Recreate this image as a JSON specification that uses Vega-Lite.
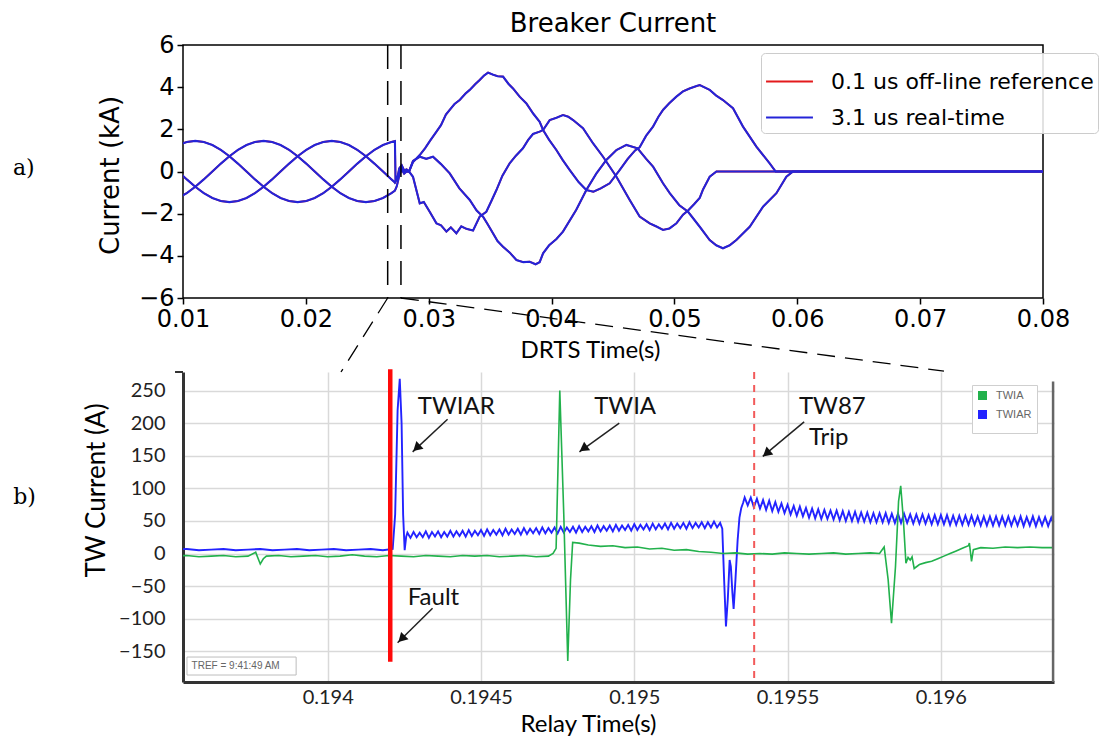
{
"$schema": "https://vega.github.io/schema/vega-lite/v6.json",
"background": "white",
"padding": {"left": 12, "top": 10, "right": 0, "bottom": 0},
"bounds": "flush",
"spacing": 74,
"resolve": {"scale": {"color": "independent"}, "legend": {"color": "independent"}},
"config": {"axis": {"labelOverlap": false}},
"datasets": {
"brk": [
{"t":0.00961,"v":1.256,"p":"A"},{"t":0.01031,"v":1.4,"p":"A"},{"t":0.011,"v":1.45,"p":"A"},{"t":0.01169,"v":1.4,"p":"A"},{"t":0.01239,"v":1.256,"p":"A"},{"t":0.01308,"v":1.025,"p":"A"},{"t":0.01378,"v":0.725,"p":"A"},{"t":0.01447,"v":0.375,"p":"A"},{"t":0.01517,"v":0,"p":"A"},{"t":0.01586,"v":-0.375,"p":"A"},{"t":0.01656,"v":-0.725,"p":"A"},{"t":0.01725,"v":-1.025,"p":"A"},{"t":0.01794,"v":-1.256,"p":"A"},{"t":0.01864,"v":-1.4,"p":"A"},{"t":0.01933,"v":-1.45,"p":"A"},{"t":0.02003,"v":-1.4,"p":"A"},{"t":0.02072,"v":-1.256,"p":"A"},{"t":0.02142,"v":-1.025,"p":"A"},{"t":0.02211,"v":-0.725,"p":"A"},{"t":0.0228,"v":-0.375,"p":"A"},{"t":0.0235,"v":0,"p":"A"},{"t":0.02419,"v":0.375,"p":"A"},{"t":0.02489,"v":0.725,"p":"A"},{"t":0.02558,"v":1.025,"p":"A"},{"t":0.02628,"v":1.256,"p":"A"},{"t":0.02697,"v":1.4,"p":"A"},{"t":0.02725,"v":1.44,"p":"A"},{"t":0.0273,"v":-0.45,"p":"A"},{"t":0.02745,"v":-0.3,"p":"A"},{"t":0.0276,"v":0.15,"p":"A"},{"t":0.0278,"v":0.3,"p":"A"},{"t":0.028,"v":0.05,"p":"A"},{"t":0.0282,"v":0.1,"p":"A"},{"t":0.0284,"v":0,"p":"A"},
{"t":0.02872,"v":0.45,"p":"A"},{"t":0.02927,"v":0.78,"p":"A"},{"t":0.0297,"v":1.1,"p":"A"},{"t":0.0301,"v":1.45,"p":"A"},{"t":0.03063,"v":1.89,"p":"A"},{"t":0.031,"v":2.2,"p":"A"},{"t":0.0314,"v":2.7,"p":"A"},{"t":0.03171,"v":2.92,"p":"A"},{"t":0.0321,"v":3.2,"p":"A"},{"t":0.03252,"v":3.39,"p":"A"},{"t":0.033,"v":3.7,"p":"A"},{"t":0.03334,"v":3.87,"p":"A"},{"t":0.0338,"v":4.15,"p":"A"},{"t":0.03415,"v":4.34,"p":"A"},{"t":0.0345,"v":4.55,"p":"A"},{"t":0.03483,"v":4.69,"p":"A"},{"t":0.0352,"v":4.6,"p":"A"},{"t":0.0356,"v":4.52,"p":"A"},{"t":0.03605,"v":4.5,"p":"A"},{"t":0.0365,"v":4.15,"p":"A"},{"t":0.03686,"v":3.94,"p":"A"},{"t":0.0374,"v":3.55,"p":"A"},{"t":0.03795,"v":3.23,"p":"A"},{"t":0.0385,"v":2.75,"p":"A"},{"t":0.03903,"v":2.36,"p":"A"},{"t":0.03931,"v":1.97,"p":"A"},{"t":0.0398,"v":1.5,"p":"A"},{"t":0.04039,"v":1.02,"p":"A"},{"t":0.0409,"v":0.55,"p":"A"},{"t":0.04148,"v":0.07,"p":"A"},{"t":0.0422,"v":-0.5,"p":"A"},{"t":0.04283,"v":-0.88,"p":"A"},{"t":0.0434,"v":-0.96,"p":"A"},{"t":0.044,"v":-0.8,"p":"A"},{"t":0.04473,"v":-0.56,"p":"A"},{"t":0.04554,"v":0.07,"p":"A"},{"t":0.0462,"v":0.6,"p":"A"},{"t":0.0468,"v":1.0,"p":"A"},{"t":0.04717,"v":1.15,"p":"A"},{"t":0.0477,"v":1.7,"p":"A"},{"t":0.04826,"v":2.13,"p":"A"},{"t":0.0487,"v":2.6,"p":"A"},{"t":0.04907,"v":2.92,"p":"A"},{"t":0.0496,"v":3.25,"p":"A"},{"t":0.05016,"v":3.55,"p":"A"},{"t":0.0507,"v":3.8,"p":"A"},{"t":0.05124,"v":3.94,"p":"A"},{"t":0.0518,"v":4.05,"p":"A"},{"t":0.05206,"v":4.1,"p":"A"},{"t":0.05287,"v":3.87,"p":"A"},{"t":0.0534,"v":3.6,"p":"A"},{"t":0.05395,"v":3.39,"p":"A"},{"t":0.05477,"v":3.0,"p":"A"},{"t":0.05558,"v":2.13,"p":"A"},{"t":0.05667,"v":1.18,"p":"A"},{"t":0.05775,"v":0.39,"p":"A"},{"t":0.05824,"v":0,"p":"A"},{"t":0.081,"v":0,"p":"A"},
{"t":0.00961,"v":-1.256,"p":"B"},{"t":0.01031,"v":-1.025,"p":"B"},{"t":0.011,"v":-0.725,"p":"B"},{"t":0.01169,"v":-0.375,"p":"B"},{"t":0.01239,"v":0,"p":"B"},{"t":0.01308,"v":0.375,"p":"B"},{"t":0.01378,"v":0.725,"p":"B"},{"t":0.01447,"v":1.025,"p":"B"},{"t":0.01517,"v":1.256,"p":"B"},{"t":0.01586,"v":1.4,"p":"B"},{"t":0.01656,"v":1.45,"p":"B"},{"t":0.01725,"v":1.4,"p":"B"},{"t":0.01794,"v":1.256,"p":"B"},{"t":0.01864,"v":1.025,"p":"B"},{"t":0.01933,"v":0.725,"p":"B"},{"t":0.02003,"v":0.375,"p":"B"},{"t":0.02072,"v":0,"p":"B"},{"t":0.02142,"v":-0.375,"p":"B"},{"t":0.02211,"v":-0.725,"p":"B"},{"t":0.0228,"v":-1.025,"p":"B"},{"t":0.0235,"v":-1.256,"p":"B"},{"t":0.02419,"v":-1.4,"p":"B"},{"t":0.02489,"v":-1.45,"p":"B"},{"t":0.02558,"v":-1.4,"p":"B"},{"t":0.02628,"v":-1.256,"p":"B"},{"t":0.02697,"v":-1.025,"p":"B"},{"t":0.02725,"v":-0.91,"p":"B"},{"t":0.0274,"v":-0.7,"p":"B"},{"t":0.0276,"v":-0.2,"p":"B"},{"t":0.0278,"v":0.1,"p":"B"},{"t":0.028,"v":-0.1,"p":"B"},{"t":0.0282,"v":0,"p":"B"},{"t":0.0284,"v":0,"p":"B"},
{"t":0.02872,"v":-0.25,"p":"B"},{"t":0.02927,"v":-1.51,"p":"B"},{"t":0.0296,"v":-1.45,"p":"B"},{"t":0.03008,"v":-1.91,"p":"B"},{"t":0.03063,"v":-2.46,"p":"B"},{"t":0.031,"v":-2.55,"p":"B"},{"t":0.03144,"v":-2.85,"p":"B"},{"t":0.0318,"v":-2.65,"p":"B"},{"t":0.03225,"v":-2.93,"p":"B"},{"t":0.03265,"v":-2.6,"p":"B"},{"t":0.03307,"v":-2.72,"p":"B"},{"t":0.03361,"v":-2.8,"p":"B"},{"t":0.03415,"v":-2.14,"p":"B"},{"t":0.03469,"v":-1.91,"p":"B"},{"t":0.0351,"v":-1.4,"p":"B"},{"t":0.03551,"v":-0.88,"p":"B"},{"t":0.036,"v":-0.2,"p":"B"},{"t":0.03659,"v":0.39,"p":"B"},{"t":0.0371,"v":0.75,"p":"B"},{"t":0.03767,"v":1.1,"p":"B"},{"t":0.0381,"v":1.5,"p":"B"},{"t":0.03849,"v":1.78,"p":"B"},{"t":0.03903,"v":1.89,"p":"B"},{"t":0.03931,"v":1.97,"p":"B"},{"t":0.03985,"v":2.44,"p":"B"},{"t":0.0404,"v":2.55,"p":"B"},{"t":0.04093,"v":2.68,"p":"B"},{"t":0.04135,"v":2.6,"p":"B"},{"t":0.04175,"v":2.44,"p":"B"},{"t":0.04256,"v":2.05,"p":"B"},{"t":0.04337,"v":1.34,"p":"B"},{"t":0.04419,"v":0.7,"p":"B"},{"t":0.04528,"v":-0.25,"p":"B"},{"t":0.04636,"v":-1.35,"p":"B"},{"t":0.04717,"v":-2.14,"p":"B"},{"t":0.04799,"v":-2.46,"p":"B"},{"t":0.0485,"v":-2.6,"p":"B"},{"t":0.04907,"v":-2.77,"p":"B"},{"t":0.0496,"v":-2.7,"p":"B"},{"t":0.05016,"v":-2.46,"p":"B"},{"t":0.0507,"v":-2.05,"p":"B"},{"t":0.05111,"v":-1.85,"p":"B"},{"t":0.0516,"v":-1.55,"p":"B"},{"t":0.05206,"v":-1.25,"p":"B"},{"t":0.05233,"v":-0.85,"p":"B"},{"t":0.05287,"v":-0.25,"p":"B"},{"t":0.05342,"v":0,"p":"B"},{"t":0.081,"v":0,"p":"B"},
{"t":0.00961,"v":0,"p":"C"},{"t":0.01031,"v":-0.375,"p":"C"},{"t":0.011,"v":-0.725,"p":"C"},{"t":0.01169,"v":-1.025,"p":"C"},{"t":0.01239,"v":-1.256,"p":"C"},{"t":0.01308,"v":-1.4,"p":"C"},{"t":0.01378,"v":-1.45,"p":"C"},{"t":0.01447,"v":-1.4,"p":"C"},{"t":0.01517,"v":-1.256,"p":"C"},{"t":0.01586,"v":-1.025,"p":"C"},{"t":0.01656,"v":-0.725,"p":"C"},{"t":0.01725,"v":-0.375,"p":"C"},{"t":0.01794,"v":0,"p":"C"},{"t":0.01864,"v":0.375,"p":"C"},{"t":0.01933,"v":0.725,"p":"C"},{"t":0.02003,"v":1.025,"p":"C"},{"t":0.02072,"v":1.256,"p":"C"},{"t":0.02142,"v":1.4,"p":"C"},{"t":0.02211,"v":1.45,"p":"C"},{"t":0.0228,"v":1.4,"p":"C"},{"t":0.0235,"v":1.256,"p":"C"},{"t":0.02419,"v":1.025,"p":"C"},{"t":0.02489,"v":0.725,"p":"C"},{"t":0.02558,"v":0.375,"p":"C"},{"t":0.02628,"v":0,"p":"C"},{"t":0.02697,"v":-0.375,"p":"C"},{"t":0.02725,"v":-0.52,"p":"C"},{"t":0.0274,"v":-0.35,"p":"C"},{"t":0.0276,"v":-0.05,"p":"C"},{"t":0.0278,"v":0.25,"p":"C"},{"t":0.028,"v":0,"p":"C"},{"t":0.0284,"v":0,"p":"C"},
{"t":0.02872,"v":0.5,"p":"C"},{"t":0.02927,"v":0.7,"p":"C"},{"t":0.0298,"v":0.6,"p":"C"},{"t":0.03035,"v":0.7,"p":"C"},{"t":0.031,"v":0.35,"p":"C"},{"t":0.03171,"v":-0.09,"p":"C"},{"t":0.0325,"v":-0.8,"p":"C"},{"t":0.03334,"v":-1.35,"p":"C"},{"t":0.0339,"v":-1.85,"p":"C"},{"t":0.03442,"v":-2.14,"p":"C"},{"t":0.0348,"v":-2.5,"p":"C"},{"t":0.03523,"v":-2.93,"p":"C"},{"t":0.0356,"v":-3.3,"p":"C"},{"t":0.03605,"v":-3.57,"p":"C"},{"t":0.0366,"v":-3.85,"p":"C"},{"t":0.03714,"v":-4.2,"p":"C"},{"t":0.0377,"v":-4.3,"p":"C"},{"t":0.03822,"v":-4.28,"p":"C"},{"t":0.0387,"v":-4.4,"p":"C"},{"t":0.03903,"v":-4.3,"p":"C"},{"t":0.03931,"v":-3.88,"p":"C"},{"t":0.0398,"v":-3.5,"p":"C"},{"t":0.0404,"v":-3.2,"p":"C"},{"t":0.04093,"v":-2.85,"p":"C"},{"t":0.042,"v":-1.83,"p":"C"},{"t":0.04283,"v":-0.88,"p":"C"},{"t":0.04365,"v":-0.09,"p":"C"},{"t":0.04446,"v":0.55,"p":"C"},{"t":0.04528,"v":1.02,"p":"C"},{"t":0.04609,"v":1.26,"p":"C"},{"t":0.047,"v":1.1,"p":"C"},{"t":0.0477,"v":0.6,"p":"C"},{"t":0.04826,"v":0.23,"p":"C"},{"t":0.04907,"v":-0.56,"p":"C"},{"t":0.04962,"v":-1.03,"p":"C"},{"t":0.0504,"v":-1.6,"p":"C"},{"t":0.05111,"v":-1.91,"p":"C"},{"t":0.05206,"v":-2.62,"p":"C"},{"t":0.05287,"v":-3.25,"p":"C"},{"t":0.0534,"v":-3.5,"p":"C"},{"t":0.05395,"v":-3.64,"p":"C"},{"t":0.0545,"v":-3.5,"p":"C"},{"t":0.05504,"v":-3.25,"p":"C"},{"t":0.05613,"v":-2.62,"p":"C"},{"t":0.05721,"v":-1.67,"p":"C"},{"t":0.0583,"v":-1.03,"p":"C"},{"t":0.05911,"v":-0.25,"p":"C"},{"t":0.05965,"v":0,"p":"C"},{"t":0.081,"v":0,"p":"C"}
],
"twiar": [
{"t":0.1935,"v":6},{"t":0.19354,"v":7},{"t":0.19358,"v":5},{"t":0.19362,"v":6},{"t":0.19366,"v":7},{"t":0.1937,"v":5},{"t":0.19374,"v":6},{"t":0.19378,"v":7},{"t":0.19382,"v":5},{"t":0.19386,"v":6},{"t":0.1939,"v":7},{"t":0.19394,"v":5},{"t":0.19398,"v":6},{"t":0.19402,"v":7},{"t":0.19406,"v":5},{"t":0.1941,"v":6},{"t":0.19414,"v":7},{"t":0.19418,"v":5},{"t":0.194212,"v":7},{"t":0.19422,"v":60},{"t":0.194228,"v":220},{"t":0.194235,"v":268},{"t":0.194241,"v":200},{"t":0.194246,"v":60},{"t":0.194251,"v":5},{"t":0.194256,"v":26},
{"t":0.19426,"v":32},{"t":0.19427,"v":24},{"t":0.19428,"v":33},{"t":0.19429,"v":25},{"t":0.1943,"v":32},{"t":0.19431,"v":25},{"t":0.19432,"v":34},{"t":0.19433,"v":24},{"t":0.19434,"v":33},{"t":0.19435,"v":26},{"t":0.19436,"v":34},{"t":0.19437,"v":25},{"t":0.19438,"v":33},{"t":0.19439,"v":26},{"t":0.1944,"v":35},{"t":0.19441,"v":26},{"t":0.19442,"v":34},{"t":0.19443,"v":27},{"t":0.19444,"v":35},{"t":0.19445,"v":26},{"t":0.19446,"v":36},{"t":0.19447,"v":27},{"t":0.19448,"v":35},{"t":0.19449,"v":28},{"t":0.1945,"v":36},{"t":0.19451,"v":27},{"t":0.19452,"v":37},{"t":0.19453,"v":28},{"t":0.19454,"v":36},{"t":0.19455,"v":29},{"t":0.19456,"v":37},{"t":0.19457,"v":28},{"t":0.19458,"v":38},{"t":0.19459,"v":29},{"t":0.1946,"v":37},{"t":0.19461,"v":30},{"t":0.19462,"v":38},{"t":0.19463,"v":29},{"t":0.19464,"v":39},{"t":0.19465,"v":30},{"t":0.19466,"v":38},{"t":0.19467,"v":31},{"t":0.19468,"v":39},{"t":0.19469,"v":30},{"t":0.1947,"v":40},{"t":0.19471,"v":31},{"t":0.19472,"v":39},{"t":0.19473,"v":32},{"t":0.19474,"v":40},{"t":0.19475,"v":31},{"t":0.19476,"v":41},{"t":0.19477,"v":32},{"t":0.19478,"v":40},{"t":0.19479,"v":33},{"t":0.1948,"v":41},{"t":0.19481,"v":32},{"t":0.19482,"v":42},{"t":0.19483,"v":33},{"t":0.19484,"v":41},{"t":0.19485,"v":34},{"t":0.19486,"v":42},{"t":0.19487,"v":33},{"t":0.19488,"v":43},{"t":0.19489,"v":34},{"t":0.1949,"v":42},{"t":0.19491,"v":35},{"t":0.19492,"v":43},{"t":0.19493,"v":34},{"t":0.19494,"v":44},{"t":0.19495,"v":35},{"t":0.19496,"v":43},{"t":0.19497,"v":36},{"t":0.19498,"v":44},{"t":0.19499,"v":35},{"t":0.195,"v":45},{"t":0.19501,"v":36},{"t":0.19502,"v":44},{"t":0.19503,"v":37},{"t":0.19504,"v":45},{"t":0.19505,"v":36},{"t":0.19506,"v":46},{"t":0.19507,"v":37},{"t":0.19508,"v":45},{"t":0.19509,"v":38},{"t":0.1951,"v":46},{"t":0.19511,"v":37},{"t":0.19512,"v":47},{"t":0.19513,"v":38},{"t":0.19514,"v":46},{"t":0.19515,"v":39},{"t":0.19516,"v":47},{"t":0.19517,"v":38},{"t":0.19518,"v":48},{"t":0.19519,"v":39},{"t":0.1952,"v":47},{"t":0.19521,"v":40},{"t":0.19522,"v":48},{"t":0.19523,"v":39},{"t":0.19524,"v":48},{"t":0.19525,"v":40},{"t":0.19526,"v":49},{"t":0.19527,"v":40},{"t":0.19528,"v":47},
{"t":0.195287,"v":38},{"t":0.195293,"v":-40},{"t":0.195299,"v":-112},{"t":0.195305,"v":-70},{"t":0.195311,"v":-10},{"t":0.195315,"v":-20},{"t":0.19532,"v":-60},{"t":0.195324,"v":-85},{"t":0.19533,"v":-40},{"t":0.195337,"v":20},{"t":0.195343,"v":55},{"t":0.195349,"v":70},{"t":0.195355,"v":78},
{"t":0.19536,"v":86},{"t":0.19537,"v":74},{"t":0.19538,"v":86},{"t":0.19539,"v":71},{"t":0.1954,"v":84},{"t":0.19541,"v":69},{"t":0.19542,"v":82},{"t":0.19543,"v":67},{"t":0.19544,"v":81},{"t":0.19545,"v":65},{"t":0.19546,"v":79},{"t":0.19547,"v":64},{"t":0.19548,"v":77},{"t":0.19549,"v":62},{"t":0.1955,"v":75},{"t":0.19551,"v":60},{"t":0.19552,"v":73},{"t":0.19553,"v":58},{"t":0.19554,"v":72},{"t":0.19555,"v":57},{"t":0.19556,"v":70},{"t":0.19557,"v":55},{"t":0.19558,"v":69},{"t":0.19559,"v":54},{"t":0.1956,"v":68},{"t":0.19561,"v":53},{"t":0.19562,"v":67},{"t":0.19563,"v":53},{"t":0.19564,"v":66},{"t":0.19565,"v":52},{"t":0.19566,"v":66},{"t":0.19567,"v":51},{"t":0.19568,"v":65},{"t":0.19569,"v":50},{"t":0.1957,"v":64},{"t":0.19571,"v":50},{"t":0.19572,"v":64},{"t":0.19573,"v":49},{"t":0.19574,"v":63},{"t":0.19575,"v":49},{"t":0.19576,"v":63},{"t":0.19577,"v":48},{"t":0.19578,"v":62},{"t":0.19579,"v":48},{"t":0.1958,"v":62},{"t":0.19581,"v":48},{"t":0.19582,"v":62},{"t":0.19583,"v":47},{"t":0.19584,"v":61},{"t":0.19585,"v":47},{"t":0.19586,"v":61},{"t":0.19587,"v":47},{"t":0.19588,"v":61},{"t":0.19589,"v":47},{"t":0.1959,"v":60},{"t":0.19591,"v":46},{"t":0.19592,"v":60},{"t":0.19593,"v":46},{"t":0.19594,"v":60},{"t":0.19595,"v":46},{"t":0.19596,"v":59},{"t":0.19597,"v":45},{"t":0.19598,"v":59},{"t":0.19599,"v":45},{"t":0.196,"v":59},{"t":0.19601,"v":45},{"t":0.19602,"v":59},{"t":0.19603,"v":44},{"t":0.19604,"v":58},{"t":0.19605,"v":44},{"t":0.19606,"v":58},{"t":0.19607,"v":44},{"t":0.19608,"v":58},{"t":0.19609,"v":44},{"t":0.1961,"v":58},{"t":0.19611,"v":44},{"t":0.19612,"v":57},{"t":0.19613,"v":43},{"t":0.19614,"v":57},{"t":0.19615,"v":43},{"t":0.19616,"v":57},{"t":0.19617,"v":43},{"t":0.19618,"v":57},{"t":0.19619,"v":43},{"t":0.1962,"v":57},{"t":0.19621,"v":43},{"t":0.19622,"v":57},{"t":0.19623,"v":43},{"t":0.19624,"v":56},{"t":0.19625,"v":43},{"t":0.19626,"v":57},{"t":0.19627,"v":42},{"t":0.19628,"v":56},{"t":0.19629,"v":43},{"t":0.1963,"v":57},{"t":0.19631,"v":42},{"t":0.19632,"v":56},{"t":0.19633,"v":43},{"t":0.19634,"v":56},{"t":0.19635,"v":42},{"t":0.19636,"v":55},{"t":0.19637,"v":43},{"t":0.19638,"v":55}
],
"twia": [
{"t":0.1935,"v":-4},{"t":0.19354,"v":-3},{"t":0.19358,"v":-5},{"t":0.19362,"v":-4},{"t":0.19366,"v":-3},{"t":0.1937,"v":-5},{"t":0.19374,"v":-4},{"t":0.193765,"v":2},{"t":0.19378,"v":-16},{"t":0.19379,"v":-8},{"t":0.1938,"v":-4},{"t":0.19384,"v":-3},{"t":0.19388,"v":-5},{"t":0.19392,"v":-4},{"t":0.19396,"v":-3},{"t":0.194,"v":-5},{"t":0.19404,"v":-4},{"t":0.19408,"v":-2},{"t":0.19412,"v":-4},{"t":0.19416,"v":-5},{"t":0.1942,"v":-3},{"t":0.19424,"v":-4},{"t":0.19428,"v":-5},{"t":0.19432,"v":-3},{"t":0.19436,"v":-4},{"t":0.1944,"v":-5},{"t":0.19444,"v":-3},{"t":0.19448,"v":-4},{"t":0.19452,"v":-3},{"t":0.19456,"v":-5},{"t":0.1946,"v":-4},{"t":0.19464,"v":-3},{"t":0.19468,"v":-5},{"t":0.19472,"v":-4},{"t":0.194735,"v":0},{"t":0.194745,"v":8},{"t":0.194757,"v":250},{"t":0.19477,"v":60},{"t":0.194783,"v":-165},{"t":0.194792,"v":-40},{"t":0.194799,"v":17},{"t":0.19482,"v":16},{"t":0.19485,"v":13},{"t":0.19489,"v":11},{"t":0.19493,"v":12},{"t":0.19497,"v":9},{"t":0.19501,"v":10},{"t":0.19505,"v":7},{"t":0.19509,"v":8},{"t":0.19513,"v":5},{"t":0.19517,"v":6},{"t":0.19521,"v":3},{"t":0.19525,"v":2},{"t":0.19529,"v":0},{"t":0.19533,"v":1},{"t":0.19537,"v":-1},{"t":0.19541,"v":0},{"t":0.19545,"v":-1},{"t":0.19549,"v":1},{"t":0.19553,"v":0},{"t":0.19557,"v":-1},{"t":0.19561,"v":0},{"t":0.19565,"v":1},{"t":0.19569,"v":-1},{"t":0.19573,"v":0},{"t":0.19577,"v":1},{"t":0.1958,"v":0},{"t":0.195815,"v":10},{"t":0.195828,"v":-40},{"t":0.195839,"v":-107},{"t":0.195852,"v":-20},{"t":0.195862,"v":80},{"t":0.195869,"v":104},{"t":0.195878,"v":50},{"t":0.195886,"v":-15},{"t":0.195893,"v":-6},{"t":0.1959,"v":-10},{"t":0.195906,"v":-5},{"t":0.195913,"v":-23},{"t":0.19593,"v":-17},{"t":0.19595,"v":-14},{"t":0.19597,"v":-12},{"t":0.19599,"v":-8},{"t":0.19601,"v":-4},{"t":0.19603,"v":0},{"t":0.19605,"v":4},{"t":0.19607,"v":8},{"t":0.19609,"v":12},{"t":0.196093,"v":16},{"t":0.1961,"v":-12},{"t":0.196106,"v":6},{"t":0.19613,"v":9},{"t":0.19617,"v":8},{"t":0.19621,"v":10},{"t":0.19625,"v":9},{"t":0.19629,"v":10},{"t":0.19633,"v":9},{"t":0.19638,"v":9}
]
},
"vconcat": [
{
"width": 860, "height": 253,
"view": {"stroke": "#000", "strokeWidth": 1.5},
"layer": [
{"data": {"name": "brk"}, "mark": {"type": "line", "strokeWidth": 1.8, "clip": true},
 "encoding": {
  "x": {"field": "t", "type": "quantitative", "scale": {"domain": [0.01, 0.08], "nice": false, "zero": false},
   "axis": {"values": [0.01,0.02,0.03,0.04,0.05,0.06,0.07,0.08], "tickCount": 20, "format": ".2f", "labelFont": "DejaVu Sans", "labelFontSize": 24, "labelColor": "#000", "tickColor": "#000", "tickSize": 6, "tickWidth": 1.5, "domain": false, "grid": false, "labelPadding": 3, "labelFlush": false, "labelOverlap": false, "title": "DRTS Time(s)", "titleFont": "Lato", "titleFontSize": 24, "titleFontWeight": "normal", "titleColor": "#000", "titleX": 407, "titleY": 40, "titleBaseline": "top", "titleAlign": "center"}},
  "y": {"field": "v", "type": "quantitative", "scale": {"domain": [-6, 6], "nice": false, "zero": false},
   "axis": {"values": [-6,-4,-2,0,2,4,6], "tickCount": 20, "format": "d", "labelFont": "DejaVu Sans", "labelFontSize": 24, "labelColor": "#000", "tickColor": "#000", "tickSize": 6, "tickWidth": 1.5, "domain": false, "grid": false, "labelPadding": 3, "labelFlush": false, "labelOverlap": false, "title": "Current (kA)", "titleFont": "DejaVu Sans", "titleFontSize": 26, "titleFontWeight": "normal", "titleColor": "#000", "titleX": -60, "titleY": 130, "titleAngle": 270, "titleAlign": "center", "titleBaseline": "bottom"}},
  "detail": {"field": "p"},
  "color": {"datum": "0.1 us off-line reference", "type": "nominal",
   "scale": {"domain": ["0.1 us off-line reference", "3.1 us real-time"], "range": ["#e31a1c", "#2424d8"]},
   "legend": {"orient": "none", "legendX": 578, "legendY": 8, "title": null, "symbolType": "stroke", "symbolSize": 2200, "symbolStrokeWidth": 2, "labelFont": "DejaVu Sans", "labelFontSize": 22, "labelColor": "#000", "labelOffset": 17, "labelLimit": 400, "rowPadding": 0, "padding": 4, "fillColor": "rgba(255,255,255,0.85)", "strokeColor": "#cccccc", "cornerRadius": 4}}
 }},
{"data": {"name": "brk"}, "mark": {"type": "line", "strokeWidth": 2.1, "clip": true},
 "encoding": {"x": {"field": "t", "type": "quantitative"}, "y": {"field": "v", "type": "quantitative"}, "detail": {"field": "p"}, "color": {"datum": "3.1 us real-time", "type": "nominal"}}},
{"data": {"values": [{"t": 0.02666, "v": 6, "v2": -6}, {"t": 0.02774, "v": 6, "v2": -6}]}, "mark": {"type": "rule", "color": "#000", "strokeWidth": 1.5, "strokeDash": [24, 12]},
 "encoding": {"x": {"field": "t", "type": "quantitative"}, "y": {"field": "v", "type": "quantitative"}, "y2": {"field": "v2"}}},
{"data": {"values": [{"t": 0.02666, "v": -6, "t2": 0.02286, "v2": -9.51}, {"t": 0.02774, "v": -6, "t2": 0.07194, "v2": -9.47}]}, "mark": {"type": "rule", "color": "#000", "strokeWidth": 1.3, "strokeDash": [18, 10], "clip": false},
 "encoding": {"x": {"field": "t", "type": "quantitative"}, "y": {"field": "v", "type": "quantitative"}, "x2": {"field": "t2"}, "y2": {"field": "v2"}}},
{"data": {"values": [{"t": -0.003837, "v": 0.166, "l": "a)"}]}, "mark": {"type": "text", "align": "left", "baseline": "middle", "font": "DejaVu Serif", "fontSize": 22, "color": "#000"},
 "encoding": {"x": {"field": "t", "type": "quantitative"}, "y": {"field": "v", "type": "quantitative"}, "text": {"field": "l"}}},
{"data": {"values": [{"t": 0.045, "v": 7.0, "l": "Breaker Current"}]}, "mark": {"type": "text", "align": "center", "baseline": "middle", "font": "DejaVu Sans", "fontSize": 26, "color": "#000", "clip": false},
 "encoding": {"x": {"field": "t", "type": "quantitative"}, "y": {"field": "v", "type": "quantitative"}, "text": {"field": "l"}}}
]
},
{
"width": 871, "height": 310,
"view": {"stroke": null},
"layer": [
{"data": {"name": "twiar"}, "mark": {"type": "line", "strokeWidth": 1.9, "clip": true},
 "encoding": {
  "x": {"field": "t", "type": "quantitative", "scale": {"domain": [0.193528, 0.196369], "nice": false, "zero": false},
   "axis": {"values": [0.194, 0.1945, 0.195, 0.1955, 0.196], "tickCount": 20, "format": "~g", "labelFont": "Lato", "labelFontSize": 20, "labelColor": "#222", "ticks": false, "domainColor": "#333", "domainWidth": 3, "grid": true, "gridColor": "#d9d9d9", "gridWidth": 1.5, "labelPadding": 5, "labelFlush": false, "labelOverlap": false, "title": "Relay Time(s)", "titleFont": "Lato", "titleFontSize": 24, "titleFontWeight": "normal", "titleColor": "#000", "titleX": 405, "titleY": 30, "titleBaseline": "top", "titleAlign": "center"}},
  "y": {"field": "v", "type": "quantitative", "scale": {"domain": [-197.2, 278.6], "nice": false, "zero": false},
   "axis": {"values": [-150,-100,-50,0,50,100,150,200,250], "tickCount": 20, "format": "d", "labelFont": "Lato", "labelFontSize": 20, "labelColor": "#222", "ticks": false, "domainColor": "#333", "domainWidth": 3, "grid": true, "gridColor": "#d9d9d9", "gridWidth": 1.5, "labelPadding": 18, "labelFlush": false, "labelOverlap": false, "title": "TW Current (A)", "titleFont": "Lato", "titleFontSize": 26, "titleFontWeight": "normal", "titleColor": "#000", "titleX": -74, "titleY": 118, "titleAngle": 270, "titleAlign": "center", "titleBaseline": "bottom"}},
  "color": {"datum": "TWIAR", "type": "nominal",
   "scale": {"domain": ["TWIA", "TWIAR"], "range": ["#22b14c", "#2323ff"]},
   "legend": {"orient": "none", "legendX": 789, "legendY": 13, "title": null, "symbolType": "square", "symbolSize": 9, "symbolStrokeWidth": 6, "labelFont": "Liberation Sans", "labelFontSize": 11, "labelColor": "#666", "labelOffset": 8, "rowPadding": -8, "padding": 5, "fillColor": "#ffffff", "strokeColor": "#cfcfcf"}}
 }},
{"data": {"name": "twia"}, "mark": {"type": "line", "strokeWidth": 1.6, "clip": true},
 "encoding": {"x": {"field": "t", "type": "quantitative"}, "y": {"field": "v", "type": "quantitative"}, "color": {"datum": "TWIA", "type": "nominal"}}},
{"data": {"values": [{"t": 0.194204, "v": 283, "v2": -166}]}, "mark": {"type": "rule", "color": "#ff0a0a", "strokeWidth": 4.5, "clip": false},
 "encoding": {"x": {"field": "t", "type": "quantitative"}, "y": {"field": "v", "type": "quantitative"}, "y2": {"field": "v2"}}},
{"data": {"values": [{"t": 0.195391, "v": 278.6, "v2": -197.2}]}, "mark": {"type": "rule", "color": "#f25a5a", "strokeWidth": 2, "strokeDash": [7, 6]},
 "encoding": {"x": {"field": "t", "type": "quantitative"}, "y": {"field": "v", "type": "quantitative"}, "y2": {"field": "v2"}}},
{"data": {"values": [{"t": 0.196366, "v": 264, "v2": -197.2}]}, "mark": {"type": "rule", "color": "#666666", "strokeWidth": 2.5, "clip": false},
 "encoding": {"x": {"field": "t", "type": "quantitative"}, "y": {"field": "v", "type": "quantitative"}, "y2": {"field": "v2"}}},
{"data": {"values": [{"t": 0.193502, "t2": 0.193528, "v": 278.6}]}, "mark": {"type": "rule", "color": "#333", "strokeWidth": 2, "clip": false},
 "encoding": {"x": {"field": "t", "type": "quantitative"}, "x2": {"field": "t2"}, "y": {"field": "v", "type": "quantitative"}}},
{"data": {"values": [{"t": 0.194391, "v": 206, "t2": 0.194277, "v2": 156}, {"t": 0.194951, "v": 200, "t2": 0.194821, "v2": 156}, {"t": 0.195554, "v": 202, "t2": 0.195419, "v2": 149}, {"t": 0.194342, "v": -84, "t2": 0.194228, "v2": -137}]},
 "mark": {"type": "rule", "color": "#222", "strokeWidth": 1.5},
 "encoding": {"x": {"field": "t", "type": "quantitative"}, "y": {"field": "v", "type": "quantitative"}, "x2": {"field": "t2"}, "y2": {"field": "v2"}}},
{"data": {"values": [{"t": 0.19429, "v": 162, "a": 227}, {"t": 0.194834, "v": 161, "a": 235}, {"t": 0.195431, "v": 153.5, "a": 230}, {"t": 0.194241, "v": -131, "a": 225}]},
 "mark": {"type": "point", "shape": "triangle-up", "filled": true, "size": 110, "color": "#111", "opacity": 1},
 "encoding": {"x": {"field": "t", "type": "quantitative"}, "y": {"field": "v", "type": "quantitative"}, "angle": {"field": "a", "type": "quantitative", "scale": null}}},
{"data": {"values": [{"t": 0.194294, "v": 225, "l": "TWIAR"}, {"t": 0.194869, "v": 225, "l": "TWIA"}, {"t": 0.195537, "v": 225, "l": "TW87"}, {"t": 0.19557, "v": 177, "l": "Trip"}, {"t": 0.194261, "v": -68, "l": "Fault"}]},
 "mark": {"type": "text", "align": "left", "baseline": "middle", "font": "Lato", "fontSize": 24, "color": "#111"},
 "encoding": {"x": {"field": "t", "type": "quantitative"}, "y": {"field": "v", "type": "quantitative"}, "text": {"field": "l"}}},
{"data": {"values": [{"t": 0.193541, "t2": 0.193897, "v": -158.9, "v2": -186.5}]}, "mark": {"type": "rect", "fill": "#ffffff", "stroke": "#bdbdbd", "strokeWidth": 1},
 "encoding": {"x": {"field": "t", "type": "quantitative"}, "x2": {"field": "t2"}, "y": {"field": "v", "type": "quantitative"}, "y2": {"field": "v2"}}},
{"data": {"values": [{"t": 0.193556, "v": -172.7, "l": "TREF = 9:41:49 AM"}]}, "mark": {"type": "text", "align": "left", "baseline": "middle", "font": "Liberation Sans", "fontSize": 10, "color": "#666"},
 "encoding": {"x": {"field": "t", "type": "quantitative"}, "y": {"field": "v", "type": "quantitative"}, "text": {"field": "l"}}},
{"data": {"values": [{"t": 0.192974, "v": 86.7, "l": "b)"}]}, "mark": {"type": "text", "align": "left", "baseline": "middle", "font": "DejaVu Serif", "fontSize": 22, "color": "#000"},
 "encoding": {"x": {"field": "t", "type": "quantitative"}, "y": {"field": "v", "type": "quantitative"}, "text": {"field": "l"}}}
]
}
]
}
